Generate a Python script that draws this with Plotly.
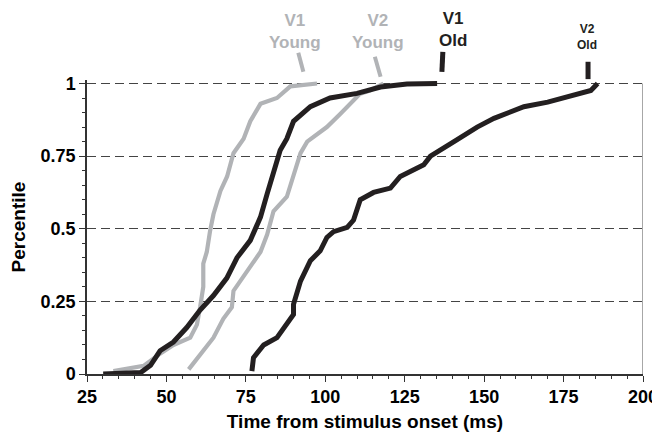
import plotly.graph_objects as go

# ---- data ----
v1_young_x = [33.3, 42.8, 48.0, 52.2, 57.5, 59.6, 60.6, 61.6, 61.6, 62.7, 63.7, 64.8, 67.0, 69.1, 71.1, 74.3, 76.4, 79.6, 84.8, 89.0, 97.4]
v1_young_y = [0.01, 0.028, 0.07, 0.10, 0.125, 0.17, 0.23, 0.30, 0.38, 0.42, 0.49, 0.55, 0.63, 0.68, 0.76, 0.81, 0.87, 0.93, 0.95, 0.99, 1.0]

v2_young_x = [57.0, 60.6, 64.8, 67.9, 70.6, 71.1, 73.2, 76.4, 79.6, 81.7, 83.7, 87.9, 90.0, 92.2, 94.3, 100.5, 104.7, 107.9, 111.0, 114.1, 118.3]
v2_young_y = [0.016, 0.068, 0.125, 0.19, 0.23, 0.286, 0.32, 0.37, 0.42, 0.48, 0.56, 0.61, 0.68, 0.76, 0.80, 0.85, 0.895, 0.93, 0.965, 0.976, 1.0]

v1_old_x = [30.1, 41.9, 45.0, 48.0, 52.2, 56.4, 60.6, 64.8, 69.0, 72.2, 76.4, 79.6, 81.7, 83.7, 85.8, 87.9, 90.0, 95.3, 101.5, 110.0, 117.4, 125.7, 135.2]
v1_old_y = [0.0, 0.005, 0.03, 0.08, 0.11, 0.16, 0.22, 0.27, 0.33, 0.40, 0.46, 0.54, 0.62, 0.70, 0.77, 0.81, 0.87, 0.92, 0.95, 0.966, 0.988, 0.998, 1.0]

v2_old_x = [76.9, 77.4, 80.6, 84.8, 90.0, 90.0, 92.2, 95.3, 98.4, 100.5, 102.6, 106.9, 108.9, 111.0, 115.2, 120.5, 123.6, 131.0, 133.1, 136.2, 140.5, 147.8, 153.1, 162.5, 170.0, 183.6, 185.7]
v2_old_y = [0.01, 0.056, 0.10, 0.125, 0.205, 0.24, 0.32, 0.39, 0.424, 0.47, 0.49, 0.505, 0.53, 0.60, 0.625, 0.64, 0.68, 0.72, 0.75, 0.77, 0.80, 0.85, 0.88, 0.92, 0.936, 0.976, 1.0]

x_tick_vals = [25, 50, 75, 100, 125, 150, 175, 200]
y_tick_vals = [0, 0.25, 0.5, 0.75, 1]
y_tick_text = ["0", "0.25", "0.5", "0.75", "1"]

GRAY = "#b1b3b6"
BLACK = "#231f20"
AX = "#333333"
FONT = "Liberation Sans"

fig = go.Figure()
series = [
    (v1_young_x, v1_young_y, GRAY, 4.2, "V1 Young"),
    (v2_young_x, v2_young_y, GRAY, 4.2, "V2 Young"),
    (v1_old_x, v1_old_y, BLACK, 5, "V1 Old"),
    (v2_old_x, v2_old_y, BLACK, 5, "V2 Old"),
]
for xs, ys, col, w, name in series:
    fig.add_trace(go.Scatter(x=xs, y=ys, mode="lines", name=name,
                             line=dict(color=col, width=w), showlegend=False))

# labels above the curves (two-line text)
labels = [
    (90.4, "V1<br>Young", 1.165, GRAY, 17),
    (116.7, "V2<br>Young", 1.165, GRAY, 17),
    (140.1, "V1<br>Old", 1.172, BLACK, 17),
    (182.3, "V2<br>Old", 1.145, BLACK, 12),
]
for x, txt, yy, col, fs in labels:
    fig.add_annotation(x=x, y=yy, xref="x", yref="paper", text=txt,
                       showarrow=False,
                       font=dict(family=FONT, size=fs, color=col, weight="bold"),
                       xanchor="center", yanchor="middle")

marks = [
    (91.5, 1.093, 93.1, 1.028, GRAY, 4),
    (115.6, 1.079, 117.4, 1.011, GRAY, 4),
    (137.0, 1.096, 136.7, 1.028, BLACK, 5),
    (182.7, 1.062, 182.7, 1.003, BLACK, 5),
]
for x0, y0, x1, y1, col, w in marks:
    fig.add_shape(type="line", xref="x", yref="paper", x0=x0, y0=y0, x1=x1, y1=y1,
                  line=dict(color=col, width=w))

# right border
fig.add_shape(type="line", xref="x", yref="y", x0=200, x1=200, y0=0, y1=1,
              line=dict(color="#8a8a8a", width=1.5))

# page body has an 8px margin, so the figure is sized to fit the window
fig.update_layout(
    width=652, height=425, autosize=False,
    margin=dict(l=79, r=17, t=72, b=59),
    paper_bgcolor="white", plot_bgcolor="white",
    font=dict(family=FONT, color="black"),
)
fig.update_xaxes(
    range=[25, 200], tickvals=x_tick_vals, ticks="outside", ticklen=6, tickwidth=1,
    tickcolor=AX, showline=True, linecolor=AX, linewidth=1.5, showgrid=False, zeroline=False,
    automargin=False,
    tickfont=dict(family=FONT, size=18, color="black", weight="bold"),
    minor=dict(dtick=5, ticks="outside", ticklen=3, tickcolor=AX, showgrid=False),
    title=dict(text="Time from stimulus onset (ms)",
               font=dict(family=FONT, size=19, weight="bold"), standoff=8),
)
fig.update_yaxes(
    range=[0, 1.012], tickvals=y_tick_vals, ticktext=y_tick_text, ticks="outside", ticklen=6,
    tickwidth=1, tickcolor=AX, showline=True, linecolor=AX, linewidth=1.5,
    showgrid=True, gridcolor="#444444", gridwidth=1, griddash="9px,5px", zeroline=False,
    automargin=False,
    tickfont=dict(family=FONT, size=18, color="black", weight="bold"),
    minor=dict(dtick=0.05, ticks="outside", ticklen=3, tickcolor=AX, showgrid=False),
    title=dict(text="Percentile", font=dict(family=FONT, size=19, weight="bold"), standoff=14),
)

fig.write_html("out.html")
